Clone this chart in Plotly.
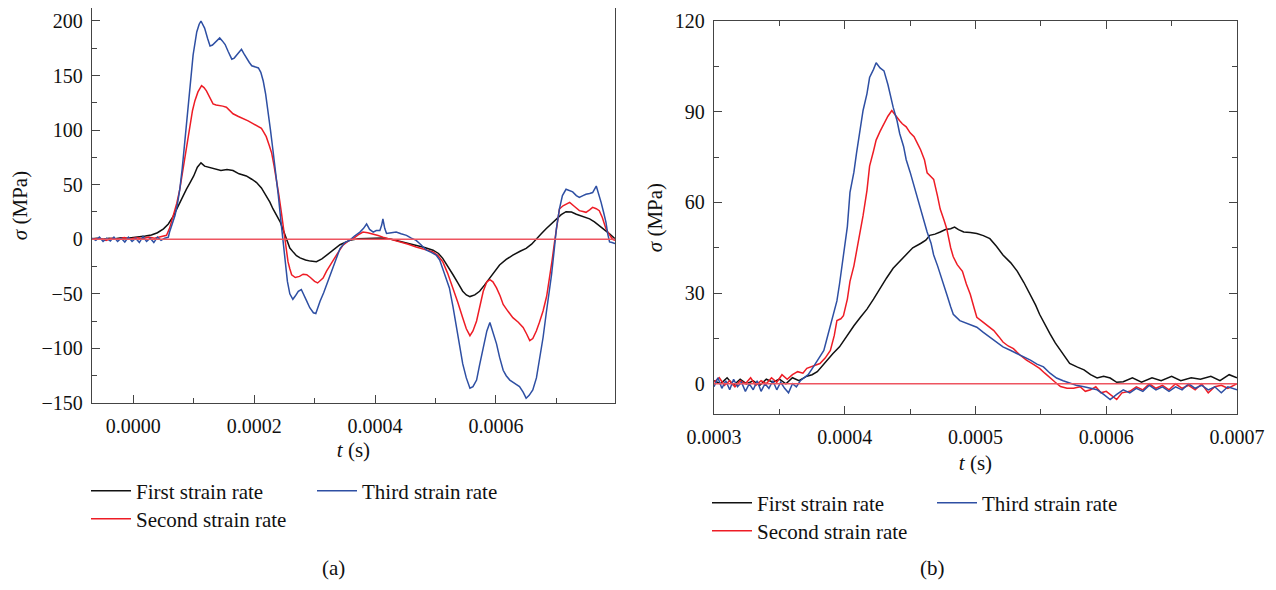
import numpy as np
import plotly.graph_objects as go

# ---------------- Panel (a) data: time in microseconds, stress in MPa ----------------
ta_first = [-68,-60,-50,-40,-30,-20,-10,0,10,20,30,40,50,58,66,72,77,83,88,94,100,106,112,118,125,135,145,155,165,175,187,196,204,212,220,226,231,237,243,247,251,255,259,265,270,276,285,293,303,312,320,331,342,358,372,386,400,413,427,441,455,468,482,496,505,512,520,529,537,545,551,557,565,573,581,590,598,606,617,628,640,650,659,667,675,683,692,700,708,716,725,733,744,755,763,771,780,788,797]
sa_first = [0.5,1,0,1,0.5,1.5,1,1.5,2,3,4,6,9.6,14,21,28,34,40,46,52,58,66,70,67,66,65,63,64,63,60,58,55,52,47,40,34,28,22,16,10,3.6,-2,-8,-12,-15,-17,-19,-20,-20.5,-18,-14.5,-9,-5,-1,0.5,0.8,1,1.2,0,-1.8,-3.5,-5.4,-7.5,-10,-13,-17.5,-24,-32.5,-40,-47.6,-51,-52.5,-51,-47.6,-42,-35.6,-29,-23.5,-18.5,-14.5,-11,-8.4,-4.5,0.6,5,9.6,14,18.7,22.5,25.3,25,23,21,18.7,16,12.7,9,5,0.5]

ta_second = [-68,-55,-45,-35,-25,-15,-5,5,15,25,35,45,50,55,60,66,72,77,81,85,90,94,98,102,107,113,117,121,126,132,137,143,148,154,160,165,174,182,190,198,205,212,216,220,225,229,233,237,241,245,248,251,254,256,259,262,268,275,281,287,293,300,305,310,314,320,325,331,339,347,356,364,372,380,388,397,405,413,427,441,455,468,482,496,504,512,520,529,537,545,551,557,562,568,574,579,585,590,595,601,607,612,620,628,637,645,651,656,661,667,672,678,684,689,693,697,701,705,711,716,722,730,738,744,749,755,760,766,771,776,782,788,793,797]
sa_second = [0,1,-1,1,0,1.5,0,1.5,0.5,2,1,2,2.5,3.6,10,21.7,33,46,60,76,93,106,118,127,135,140.7,139,136,130,124,123,122.6,122,121,118,115,112.5,110.6,108.5,106,104,101.6,98,94,86,79,67,55,40,24.7,12,0.6,-11,-20.5,-27,-32.5,-35,-34,-32,-32.5,-35,-38.6,-40,-38,-35.6,-29,-24,-19,-12,-5.4,-1.5,0.6,4,6.6,6,5,3.5,2,0,-2.4,-4.5,-7,-9,-11.5,-15,-20.5,-31,-44.6,-58,-71.8,-82,-88.3,-84,-74.8,-60,-47.6,-39,-37,-39,-44.6,-52,-59.7,-66,-71.8,-76,-80.8,-87,-92.9,-91,-83.8,-76,-65.7,-52,-35.6,-19,-2.4,13,27.7,30.7,32,33.8,30,26.2,25.5,24.7,27,29.2,28,26.2,20,9.6,4,0,-1]

ta_third = [-68,-62,-56,-50,-44,-38,-32,-26,-20,-14,-8,-2,4,10,16,22,28,34,40,46,52,58,60,64,69,73,77,81,85,90,94,99,105,109,112,115,118,123,127,131,135,139,143,147,152,157,163,167,171,175,179,183,187,192,196,202,207,211,215,219,223,227,231,236,240,244,248,252,255,259,264,268,273,278,281,287,292,298,302,305,309,315,320,326,331,337,342,350,358,366,375,381,386,391,397,402,408,411,413,416,419,427,435,443,452,460,468,476,485,493,501,507,512,518,523,529,535,540,545,551,557,562,568,573,579,585,590,595,601,606,612,617,623,631,639,645,650,655,661,667,672,678,683,688,692,696,700,705,710,716,722,727,733,738,744,749,755,760,766,770,774,778,782,785,788,792,797]
sa_third = [1,-1,2,-2,1,-1.5,2,-2,1,-2.5,2,-2,1,-3,2.5,-2,1,-3,2,-1,1,2,6.6,13,21.7,32,46,65,88,113,136,169,190,197,200,197,193.5,184,177,178,180,182,184.5,182,178.4,172,165,166,169,172,174,170,166,162,159,158,157,153,145,133,118,100,82,60,40,18,-2.4,-22,-38.6,-50,-55,-52,-47.6,-46,-50,-56.7,-62.7,-67.3,-68,-63,-56.7,-49,-41.6,-34,-26.6,-16,-8.5,-3,-1,3,6.6,10,14,9,6.6,8,8,13,18.6,10,5.4,6,6.6,5,3.6,1,-1,-5,-10,-12,-14.5,-19,-26.6,-35,-44.6,-62,-80.8,-98,-114,-127,-136.5,-135,-129,-115,-99,-84,-76.3,-85,-95.8,-108,-120,-125,-129,-132,-135,-140,-145.6,-143,-138,-127,-111,-90,-68.7,-50,-32.5,-12,9.6,27.7,40,45.8,44.5,43.4,40,38.3,40,41.3,42,42.8,48.8,42,33.8,25,15.7,5,-2.4,-3,-4]

# ---------------- Panel (b) data ----------------
tb_first = [300,305,310,315,320,325,330,335,340,345,350,355,360,365,371,375,379,383,386,391,396,401,407,412,417,422,427,432,437,442,447,452,458,462,465,469,473,477,481,484,487,491,496,501,506,511,516,521,527,532,537,542,546,549,553,557,561,565,569,572,578,583,588,593,598,603,608,613,620,627,635,642,650,657,665,672,680,687,694,700]
sb_first = [1,0,2,-0.5,1.5,0,1,-0.5,1.5,0.5,1.5,0,2,1,2.5,3,4,6,7.8,10,12.2,15.5,19.2,22,24.7,28,31.7,35,38.2,40.5,43,45,46.4,47.5,49.1,49.5,50.2,51,51.3,51.8,51,50.2,50,49.7,49,48,45.5,42.6,40,37.2,33.5,29.6,26,23,19.5,16.5,13.5,11.1,8.5,6.7,5.5,4.6,3,1.9,2.5,1.9,0.5,0.7,2,0.5,2,1,2.5,1,2,1.5,2.5,1,3,2]

tb_second = [300,304,308,312,316,320,324,328,332,336,340,344,348,352,356,360,364,368,371,376,381,385,389,392,394,397,399,402,404,407,409,412,414,417,419,422,424,427,430,433,436,439,442,444,447,450,453,455,458,461,463,466,468,471,473,476,478,481,483,486,490,493,496,499,501,506,510,514,518,521,525,529,534,539,544,549,553,557,561,565,570,575,580,584,588,592,596,600,604,608,612,618,623,628,633,638,643,648,653,658,663,668,673,678,683,688,693,700]
sb_second = [0.5,2,-0.5,1,-1,1,0,2,-0.5,1,0,2,0.5,3,1.5,3,4,3.5,5.1,6,6.7,8.5,11,16,20.9,21.5,22.5,28,33.9,39,43.7,50,55.6,64,72,77,80.6,83.5,86,88.5,90.4,88.5,87,86,85,83,81.7,80,77.4,74,69.8,68.5,67.6,62,57.8,54,51.3,45,42,39.4,37.2,33,29.6,25,22,20.3,19,17.6,15.5,13.8,12.5,11.6,9.5,7.8,6.5,5.1,3.5,1.9,0.5,-0.9,-1.5,-1.5,-1,-2.5,-2,-1,-3,-2.5,-4,-5.2,-3,-2.5,-1,-2,0,-1.5,-0.5,-2,0,-1.5,-0.5,-2,0,-3,-1,-0.5,-1.5,0]

tb_third = [300,303,306,309,312,315,318,321,324,327,330,333,336,339,342,345,348,351,354,357,360,363,366,369,372,376,381,384,386,388,390,392,394,396,398,399,402,404,407,409,412,414,417,419,422,424,427,430,433,435,437,440,442,445,447,450,453,456,458,461,463,466,468,471,473,476,478,481,483,488,494,501,506,511,516,521,527,532,537,542,547,552,557,562,567,572,577,583,588,593,598,603,608,613,618,623,628,633,638,643,648,653,658,663,668,673,678,683,688,693,700]
sb_third = [-1,2,-1.5,1,-2,1.5,-1,0.5,-2.5,0,-2,1,-2.5,0,-1.5,1,-2,0.5,-1.5,-3,0,-1,1,2,3,5.6,8.9,11,14.3,17.5,20.9,24,27.4,33,39.4,41.5,52,63.3,70,76.3,84,90.4,96,101.3,104,106.2,104.5,103.5,99,95,91.5,87,82.8,78.5,74.1,70,65.4,61,57.8,54,50.2,46.5,42.6,39,36.1,32.5,29.6,25.5,23,20.9,20,18.7,17,15.4,13.8,12.2,11,10,9,7.8,6.5,5.6,3.5,1.9,1,0.2,-0.5,-1,-1.5,-2,-3.5,-5.2,-3.5,-2,-3,-1.5,-2.5,-0.5,-2,-1,-2.5,-1,-2,0,-1.5,-0.5,-2,-1,-3,-1,-2]

names = ["First strain rate", "Second strain rate", "Third strain rate"]
colors = ["#111111", "#EE1C25", "#2E4FA3"]
US = 1e-6

FONT = "Liberation Serif"
OFF = 8                      # default page margin of the html body
W, H = 1276 - OFF, 590 - 2 * OFF
AXC = "#444444"

fig = go.Figure()

panel_a = [(ta_first, sa_first), (ta_second, sa_second), (ta_third, sa_third)]
panel_b = [(tb_first, sb_first), (tb_second, sb_second), (tb_third, sb_third)]
legends_a = ["legend", "legend3", "legend2"]
legends_b = ["legend4", "legend6", "legend5"]

for i, (t, s) in enumerate(panel_a):
    fig.add_trace(go.Scatter(x=np.array(t) * US, y=s, mode="lines", name=names[i],
                             line=dict(color=colors[i], width=1.5),
                             xaxis="x", yaxis="y", legend=legends_a[i]))
for i, (t, s) in enumerate(panel_b):
    fig.add_trace(go.Scatter(x=np.array(t) * US, y=s, mode="lines", name=names[i],
                             line=dict(color=colors[i], width=1.5),
                             xaxis="x2", yaxis="y2", legend=legends_b[i]))

def px_x(p):
    return min(1.0, max(0.0, (p - OFF) / W))

def px_y(p):
    return min(1.0, max(0.0, 1 - (p - OFF) / H))

tickfont = dict(family=FONT, size=20, color="#111111")
titlefont = dict(family=FONT, size=21, color="#111111")
common = dict(showline=True, linecolor=AXC, linewidth=1.3, ticks="inside", tickcolor=AXC,
              tickwidth=1.3, ticklen=8, showgrid=False, zeroline=False, tickfont=tickfont,
              automargin=False, ticklabeloverflow="allow")

fig.update_layout(
    width=W, height=H, template="none",
    paper_bgcolor="white", plot_bgcolor="white",
    margin=dict(l=0, r=0, t=0, b=0),
    font=dict(family=FONT, size=20, color="#111111"),
    xaxis=dict(domain=[px_x(92), px_x(615)], anchor="y", range=[-0.0000683, 0.000797],
               tick0=0, dtick=0.0002, tickformat=".4f", mirror=True,
               minor=dict(dtick=0.0001, ticks="inside", ticklen=5, tickcolor=AXC, tickwidth=1.2),
               title=dict(text="<i>t</i> (s)", font=titlefont, standoff=6),
               ticklabelstandoff=5,
               **common),
    yaxis=dict(domain=[px_y(403), px_y(8)], anchor="x", range=[-150, 211.9],
               tick0=0, dtick=50, mirror=True,
               minor=dict(dtick=25, ticks="inside", ticklen=5, tickcolor=AXC, tickwidth=1.2),
               title=dict(text="<i>σ</i> (MPa)", font=titlefont, standoff=12),
               ticklabelstandoff=4,
               **common),
    xaxis2=dict(domain=[px_x(714), px_x(1237)], anchor="y2", range=[0.0003, 0.0007],
                tick0=0.0003, dtick=0.0001, tickformat=".4f", mirror="ticks",
                minor=dict(dtick=0.00005, ticks="inside", ticklen=5, tickcolor=AXC, tickwidth=1.2),
                title=dict(text="<i>t</i> (s)", font=titlefont, standoff=8),
                ticklabelstandoff=5,
                **common),
    yaxis2=dict(domain=[px_y(414), px_y(21)], anchor="x2", range=[-10, 120],
                tick0=0, dtick=30, mirror="ticks",
                minor=dict(dtick=15, ticks="inside", ticklen=5, tickcolor=AXC, tickwidth=1.2),
                title=dict(text="<i>σ</i> (MPa)", font=titlefont, standoff=6),
                ticklabelstandoff=4,
                **common),
    showlegend=True,
)

leg_common = dict(xanchor="left", yanchor="middle", bgcolor="rgba(0,0,0,0)",
                  font=dict(family=FONT, size=21, color="#111111"), itemwidth=40,
                  borderwidth=0, tracegroupgap=0)
fig.update_layout(
    legend=dict(x=px_x(86), y=px_y(491), **leg_common),
    legend2=dict(x=px_x(312), y=px_y(491), **leg_common),
    legend3=dict(x=px_x(86), y=px_y(519), **leg_common),
    legend4=dict(x=px_x(707), y=px_y(503), **leg_common),
    legend5=dict(x=px_x(932), y=px_y(503), **leg_common),
    legend6=dict(x=px_x(707), y=px_y(531), **leg_common),
)

# zero reference lines
for xr, yr in [("x domain", "y"), ("x2 domain", "y2")]:
    fig.add_shape(type="line", xref=xr, yref=yr, x0=0, x1=1, y0=0, y1=0,
                  line=dict(color="#EE5560", width=1.4), layer="above")

for label, cx in [("(a)", 320), ("(b)", 947)]:
    fig.add_annotation(text=label, x=px_x(cx), y=0, xref="paper", yref="paper",
                       yanchor="bottom", showarrow=False,
                       font=dict(family=FONT, size=21, color="#111111"))

fig.write_html("out.html")
